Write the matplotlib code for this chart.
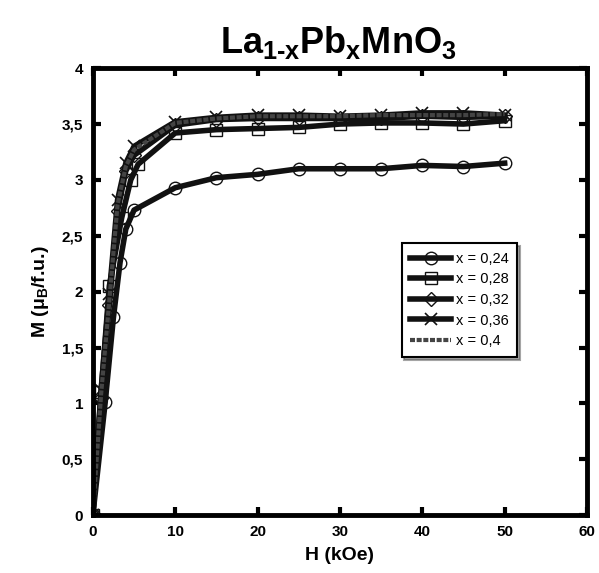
import matplotlib
matplotlib.use("Agg")
import matplotlib.pyplot as plt
from matplotlib.ticker import FuncFormatter, MultipleLocator

plt.rcParams['font.family'] = ['Liberation Sans', 'DejaVu Sans']
plt.rcParams['mathtext.fontset'] = 'custom'
plt.rcParams['mathtext.rm'] = 'Liberation Sans:bold'
plt.rcParams['mathtext.it'] = 'Liberation Sans:bold'
plt.rcParams['mathtext.bf'] = 'Liberation Sans:bold'

# data
H_024 = [0, 1.5, 2.5, 3.3, 4, 5, 10, 15, 20, 25, 30, 35, 40, 45, 50]
M_024 = [0, 1.01, 1.77, 2.26, 2.56, 2.73, 2.93, 3.02, 3.05, 3.10, 3.10, 3.10, 3.13, 3.12, 3.15]

H_028 = [0, 1, 2, 3.5, 4.6, 5.5, 10, 15, 20, 25, 30, 35, 40, 45, 50]
M_028 = [0, 1.1, 2.05, 2.66, 3.0, 3.14, 3.42, 3.45, 3.46, 3.47, 3.50, 3.51, 3.51, 3.50, 3.53]

H_band = [0, 1, 2, 3, 4, 5, 10, 15, 20, 25, 30, 35, 40, 45, 50]
M_032 = [0, 1.05, 1.88, 2.72, 3.08, 3.22, 3.49, 3.54, 3.55, 3.55, 3.55, 3.55, 3.57, 3.56, 3.57]
M_036 = [0, 1.12, 1.98, 2.82, 3.15, 3.30, 3.52, 3.56, 3.58, 3.58, 3.57, 3.58, 3.60, 3.60, 3.58]
M_040 = [0, 1.08, 1.92, 2.78, 3.12, 3.27, 3.51, 3.55, 3.57, 3.57, 3.57, 3.58, 3.58, 3.58, 3.59]

labels = ['x = 0,24', 'x = 0,28', 'x = 0,32', 'x = 0,36', 'x = 0,4']

fig = plt.figure(figsize=(5.99, 5.73), dpi=100)
ax = fig.add_axes([0.155, 0.101, 0.825, 0.78])

lw = 4
ms = 9
ax.plot(H_024, M_024, color='#111111', lw=lw, marker='o', ms=ms, mfc='none', mec='#111111', mew=1, label=labels[0])
ax.plot(H_028, M_028, color='#111111', lw=lw, marker='s', ms=ms, mfc='none', mec='#111111', mew=1, label=labels[1])
ax.plot(H_band, M_032, color='#111111', lw=lw, marker='D', ms=7, mfc='none', mec='#111111', mew=1, label=labels[2])
ax.plot(H_band, M_036, color='#111111', lw=lw, marker='x', ms=ms, mec='#111111', mew=1.2, label=labels[3])
ax.plot(H_band, M_040, color='#444444', lw=3, ls=(0, (1.2, 0.4)), label=labels[4])

ax.set_xlim(0, 60)
ax.set_ylim(0, 4)
ax.xaxis.set_major_locator(MultipleLocator(10))
ax.yaxis.set_major_locator(MultipleLocator(0.5))
comma = FuncFormatter(lambda v, p: ('%g' % v).replace('.', ','))
ax.xaxis.set_major_formatter(comma)
ax.yaxis.set_major_formatter(comma)

for s in ax.spines.values():
    s.set_linewidth(3.5)
ax.tick_params(direction='in', length=6, width=3, labelsize=11, top=True, right=True, pad=7)
for t in ax.get_xticklabels() + ax.get_yticklabels():
    t.set_fontweight('bold')

ax.set_xlabel('H (kOe)', fontsize=14, fontweight='bold', labelpad=6)
ax.set_ylabel(r'M ($\mu_B$/f.u.)', fontsize=14, fontweight='bold', labelpad=8)
fig.text(0.565, 0.925, r'$La_{1\text{-}x}Pb_xMnO_3$', fontsize=26, ha='center', va='center')

leg = ax.legend(loc='upper left', bbox_to_anchor=(0.61, 0.625), fontsize=10.5,
                handlelength=2.8, fancybox=False, shadow=True, borderpad=0.6,
                labelspacing=0.45, handletextpad=0.3)
leg.get_frame().set_edgecolor('black')
leg.get_frame().set_linewidth(1.5)

fig.savefig('out.png', dpi=100)
